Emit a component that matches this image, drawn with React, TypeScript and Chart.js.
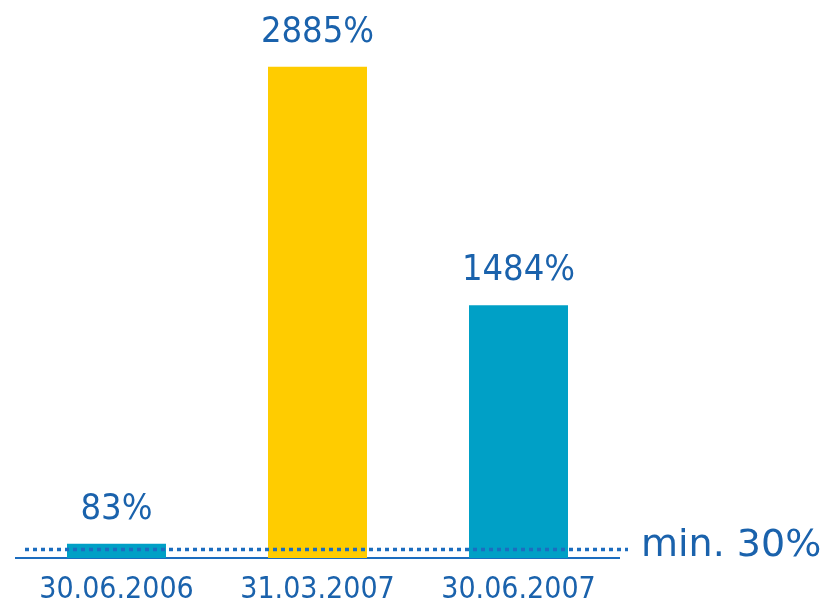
import React, { useEffect, useRef } from "react";
import { Chart, registerables } from "chart.js";

Chart.register(...registerables);

const categories = ["30.06.2006", "31.03.2007", "30.06.2007"];
const values = [83, 2885, 1484];
const barColors = ["#00A0C6", "#FFCC00", "#00A0C6"];
const minLabel = "min. 30%";
const minLineValue = 50; // visual position of the "min. 30%" line

const TEXT_BLUE = "#1A62AC";
const LINE_BLUE = "#1C6DBF";

const overlayPlugin = {
  id: "overlay",
  afterDatasetsDraw(chart: any) {
    const ctx = chart.ctx;
    const area = chart.chartArea;
    const meta = chart.getDatasetMeta(0);
    ctx.save();
    ctx.fillStyle = TEXT_BLUE;
    ctx.font = "36px 'DejaVu Sans Condensed', 'DejaVu Sans', sans-serif";
    ctx.textAlign = "center";
    ctx.textBaseline = "alphabetic";
    meta.data.forEach((bar: any, i: number) => {
      ctx.fillText(`${values[i]}%`, bar.x, bar.y - 25);
    });
    const y = chart.scales.y.getPixelForValue(minLineValue);
    ctx.strokeStyle = LINE_BLUE;
    ctx.lineWidth = 3.5;
    ctx.setLineDash([4, 4]);
    ctx.beginPath();
    ctx.moveTo(area.left + 9, y);
    ctx.lineTo(area.right + 9, y);
    ctx.stroke();
    ctx.setLineDash([]);
    ctx.font = "38px 'DejaVu Sans', sans-serif";
    ctx.textAlign = "left";
    ctx.fillText(minLabel, area.right + 22, y + 7);
    ctx.restore();
  },
};

export default function App() {
  const ref = useRef<HTMLCanvasElement>(null);
  useEffect(() => {
    if (!ref.current) return;
    const chart = new Chart(ref.current, {
      type: "bar",
      data: {
        labels: categories,
        datasets: [
          {
            data: values,
            backgroundColor: barColors,
            borderWidth: 0,
            barPercentage: 0.4925,
            categoryPercentage: 1,
          },
        ],
      },
      options: {
        animation: false,
        responsive: false,
        maintainAspectRatio: false,
        layout: { padding: { left: 16, right: 210, top: 20, bottom: -19 } },
        plugins: { legend: { display: false }, tooltip: { enabled: false } },
        scales: {
          x: {
            grid: { display: false, drawTicks: false },
            border: { display: true, color: LINE_BLUE, width: 2 },
            ticks: {
              color: TEXT_BLUE,
              padding: 14,
              font: { family: "'DejaVu Sans Condensed', 'DejaVu Sans', sans-serif", size: 30 },
            },
          },
          y: {
            display: false,
            min: 0,
            max: 3160,
          },
        },
      },
      plugins: [overlayPlugin],
    });
    return () => chart.destroy();
  }, []);
  return (
    <div style={{ position: "absolute", left: 0, top: 0, width: 829, height: 603, background: "#fff" }}>
      <canvas ref={ref} width={829} height={603} />
    </div>
  );
}
